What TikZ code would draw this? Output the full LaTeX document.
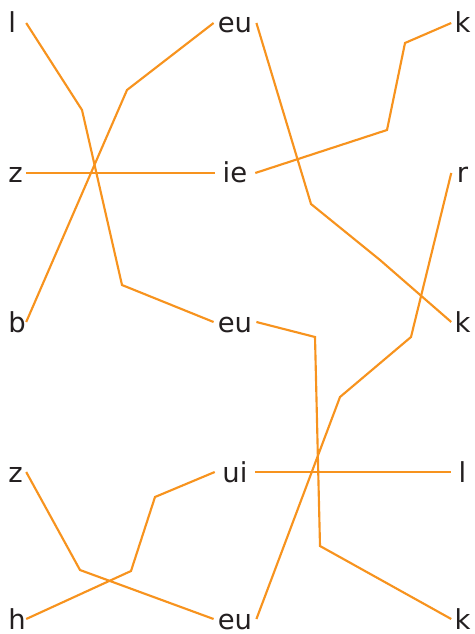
\documentclass[tikz,border=0pt]{standalone}
\usepackage{fontspec}
\setmainfont{DejaVu Sans}
\definecolor{linkorange}{HTML}{F7931E}
\definecolor{lbltext}{HTML}{231F20}

\begin{document}
\begin{tikzpicture}[
    x=0.75pt, y=-0.75pt,
    lbl/.style={font=\fontsize{20.6}{24}\selectfont, text=lbltext,
                text height=15pt, text depth=0pt, inner ysep=0pt},
    leftlbl/.style={lbl, anchor=base west, text width=11pt, align=left,
                    inner xsep=2.25pt},
    midlbl/.style={lbl, anchor=base, minimum width=30pt, inner xsep=3pt},
    rightlbl/.style={lbl, anchor=base, minimum width=16.5pt, inner xsep=2pt},
    conn/.style={linkorange, line width=1.6pt},
]
\useasboundingbox (0,0) rectangle (474,634);

% --- Left column ---
\node[leftlbl] (l1) at (5, 33)  {l};
\node[leftlbl] (z2) at (5, 183) {z};
\node[leftlbl] (b3) at (5, 332) {b};
\node[leftlbl] (z4) at (5, 482) {z};
\node[leftlbl] (h5) at (5, 629) {h};

% --- Middle column ---
\node[midlbl] (eu1) at (235, 33)  {eu};
\node[midlbl] (ie2) at (235, 183) {ie};
\node[midlbl] (eu3) at (235, 332) {eu};
\node[midlbl] (ui4) at (235, 482) {ui};
\node[midlbl] (eu5) at (235, 629) {eu};

% --- Right column ---
\node[rightlbl] (k1) at (462.5, 33)  {k};
\node[rightlbl] (r2) at (462.5, 183) {r};
\node[rightlbl] (k3) at (462.5, 332) {k};
\node[rightlbl] (l4) at (462.5, 482) {l};
\node[rightlbl] (k5) at (462.5, 629) {k};

% --- Links, left to middle ---
\draw[conn] (l1.east) -- (82,110) -- (122,285) -- (eu3.west);
\draw[conn] (b3.east) -- (127,90) -- (eu1.west);
\draw[conn] (z2.east) -- (z2.east -| ie2.west);
\draw[conn] (z4.east) -- (80,570) -- (eu5.west);
\draw[conn] (h5.east) -- (131,571) -- (155,497) -- (ui4.west);

% --- Links, middle to right ---
\draw[conn] (eu1.east) -- (311,204) -- (380,260) -- (k3.west);
\draw[conn] (ie2.east) -- (387,130) -- (405,43) -- (k1.west);
\draw[conn] (r2.west) -- (411,337) -- (340,397) -- (eu5.east);
\draw[conn] (eu3.east) -- (315,337) -- (320,546) -- (k5.west);
\draw[conn] (ui4.east) -- (ui4.east -| l4.west);

\end{tikzpicture}
\end{document}
